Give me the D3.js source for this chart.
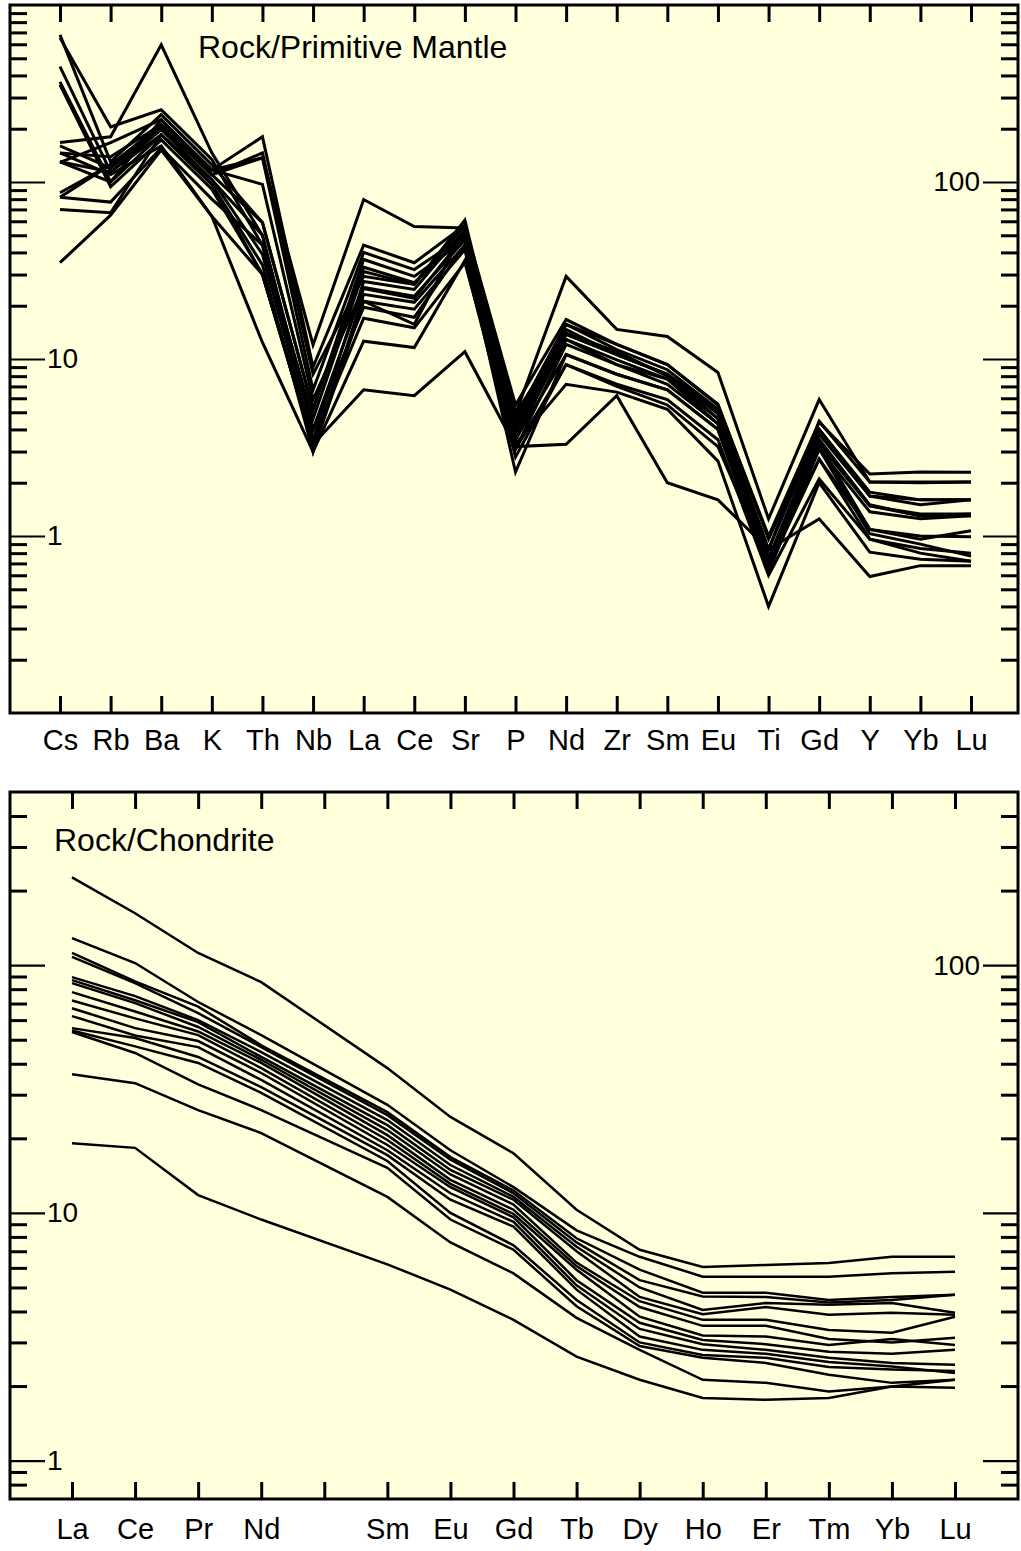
<!DOCTYPE html>
<html><head><meta charset="utf-8">
<script src="https://cdn.jsdelivr.net/npm/d3@7"></script>
<style>
body{margin:0;background:#fff}
svg text{font-family:"Liberation Sans",Arial,Helvetica,sans-serif;}
</style>
</head><body>
<svg id="chart" width="1021" height="1551"></svg>
<script>
// ---------- DATA ----------
// Spider diagram: normalised to primitive mantle
const pmElements = ["Cs","Rb","Ba","K","Th","Nb","La","Ce","Sr","P","Nd","Zr","Sm","Eu","Ti","Gd","Y","Yb","Lu"];
const pmSamples = [
  [35,65,152,64,30,3.3,6.7,6.2,11,3.2,3.3,6.2,2.0,1.6,0.84,1.25,0.59,0.68,0.68],
  [167,180,596,146,50,4.0,25,22,50,4.3,14,11,8,5,0.75,3.5,1.5,1.3,1.3],
  [130,100,225,117,180,9,44,35,57,5.5,16.7,12.1,9.3,5.5,1.0,4.4,2.24,2.3,2.29],
  [82,125,211,110,137,12,79.6,56,55,4.9,29.3,14.7,13.4,8.4,1.25,5.9,2.02,2.02,2.02],
  [678,130,240,125,59,5.2,36.5,29.3,47,4.6,15.7,11.3,8.7,5.2,0.84,4.0,1.77,1.6,1.6],
  [652,205,256,134,44,4.6,31.2,26.4,61,4.0,13.8,10.6,8.2,4.9,0.74,3.76,1.68,1.5,1.6],
  [448,114,198,103,39,3.5,27.4,24.7,54,3.5,12.9,9.9,7.7,4.6,0.69,3.3,1.48,1.33,1.33],
  [368,100,185,97,34,3.0,23.2,20.9,44,3.1,12.1,9.3,7.2,4.3,0.63,3.1,1.37,1.25,1.3],
  [354,94,173,91,30,3.3,21.2,19.1,41.5,2.3,10.6,8.2,6.7,4.0,0.66,2.72,1.09,1.0,0.99],
  [146,139,211,117,137,6.7,40,32,50,4.6,15.7,12.1,9.3,5.55,0.96,4.0,1.68,1.6,1.6],
  [129,167,225,110,146,8.2,29.3,26.4,57,4.3,14.7,10.6,8.2,4.6,0.74,3.5,1.48,1.3,1.33],
  [87,125,198,117,97,5.9,25.4,22.6,47,3.8,12.9,9.3,7.7,4.3,0.69,3.3,1.09,0.96,1.07],
  [82,77,156,80,44,4.0,19.6,17.2,44,3.5,10.6,8.2,6.7,4.0,0.63,3.1,1.03,0.9,0.77],
  [70,67,185,103,50,3.0,21.2,15.7,54,3.1,9.3,7.2,5.9,3.5,0.6,2.1,0.96,0.8,0.72],
  [130,114,185,97,30,3.5,17,15,35,3.3,7.2,6.5,5.2,2.65,0.40,2.0,0.81,0.74,0.72],
  [146,110,160,64,12.4,3.0,12.6,11.6,36,2.8,9.3,7.0,5.5,3.2,0.7,2.72,0.96,0.85,0.8],
  [160,120,205,110,59,5.2,33,27,50,4.9,13.8,10.6,8.2,5.2,0.84,4.45,2.02,2.0,2.02]
];
const pmTitle = "Rock/Primitive Mantle";
const pmDomain = [0.1, 1000];
const pmLeftLabels = [1, 10];
const pmRightLabels = [100];

// REE diagram: normalised to chondrite (Pm has no data)
const reeAxis = ["La","Ce","Pr","Nd","Pm","Sm","Eu","Gd","Tb","Dy","Ho","Er","Tm","Yb","Lu"];
const reeAxisLabels = ["La","Ce","Pr","Nd","","Sm","Eu","Gd","Tb","Dy","Ho","Er","Tm","Yb","Lu"];
const reeElements = ["La","Ce","Pr","Nd","Sm","Eu","Gd","Tb","Dy","Ho","Er","Tm","Yb","Lu"];
const reeSamples = [
  [226,162,112,85.4,38.4,24.4,17.4,10.3,7.1,6.05,6.16,6.27,6.65,6.65],
  [128.5,102,71,52.2,27.3,17.9,12.7,8.5,6.65,5.53,5.53,5.53,5.7,5.78],
  [112,86,68,47.5,25.5,16.8,12.3,7.9,5.9,4.76,4.76,4.45,4.58,4.67],
  [108,84.6,64,46.7,24.8,16.4,12.0,7.6,5.35,4.6,4.58,4.35,4.45,4.67],
  [89.5,75,60,44.6,23.7,15.6,11.6,7.3,5.0,4.06,4.33,4.26,4.33,3.95],
  [87,72.2,58.9,42.6,22.6,14.9,11.3,7.0,4.58,3.9,4.17,3.88,3.95,3.88],
  [84.6,70.3,56.3,41.5,21.6,14.3,10.8,6.3,4.4,3.7,3.7,3.37,3.28,3.81],
  [77.8,65,54,40.3,20.6,13.6,10.3,6.1,4.17,3.5,3.5,3.1,3.0,3.13],
  [72,61,52.2,38.4,19.7,13.1,9.9,5.9,3.81,3.2,3.17,2.93,3.1,2.93],
  [67,55.7,49.4,36.7,18.8,12.7,9.6,5.35,3.6,3.07,2.95,2.75,2.7,2.8],
  [62.3,52,46.7,34.4,17.9,12.0,9.2,5.1,3.4,2.95,2.8,2.6,2.48,2.44],
  [55.7,50.8,42.6,32.2,17.1,11.3,8.8,4.9,3.17,2.8,2.7,2.5,2.4,2.26],
  [54.5,47,40.3,30.5,16.2,10.0,7.4,4.45,3.0,2.67,2.6,2.39,2.33,2.3],
  [53.7,44.2,33,26,15.2,9.4,7.1,4.2,2.9,2.6,2.48,2.22,2.06,2.12],
  [36.3,33.4,26,21,11.6,7.6,5.7,3.77,2.8,2.12,2.06,1.9,1.99,1.97],
  [19.1,18.3,11.8,9.4,6.2,4.9,3.7,2.63,2.12,1.79,1.76,1.79,1.99,2.12]
];
const reeTitle = "Rock/Chondrite";
const reeDomain = [0.7, 500];
const reeLeftLabels = [1, 10];
const reeRightLabels = [100];

// ---------- DRAWING ----------
const svg = d3.select("#chart");
const BG = "#ffffdc";
const TICK_FONT = 28;
const CAT_FONT = 29;
const TITLE_FONT = 32;

function logTicks(dom) {
  const major = [], minor = [];
  for (let e = -3; e <= 4; e++) {
    for (let m = 1; m <= 9; m++) {
      const v = +(m * Math.pow(10, e)).toPrecision(6);
      if (v <= dom[0] * 1.0001 || v >= dom[1] * 0.9999) continue;
      (m === 1 ? major : minor).push(v);
    }
  }
  return {major, minor};
}

function panel(cfg) {
  const g = svg.append("g");
  g.append("rect")
    .attr("x", cfg.x0).attr("y", cfg.y0)
    .attr("width", cfg.x1 - cfg.x0).attr("height", cfg.y1 - cfg.y0)
    .attr("fill", BG);

  const x = d3.scalePoint().domain(cfg.axisCats).range(cfg.xr);
  const y = d3.scaleLog().domain(cfg.domain).range([cfg.y1, cfg.y0]);

  // sample lines
  const line = d3.line().x(d => x(d[0])).y(d => y(d[1]));
  g.append("g").selectAll("path")
    .data(cfg.samples)
    .join("path")
    .attr("d", s => line(cfg.elements.map((e, i) => [e, s[i]])))
    .attr("fill", "none")
    .attr("stroke", "#000")
    .attr("stroke-width", cfg.lw)
    .attr("stroke-linejoin", "miter");

  const style = fs => sel => {
    sel.select(".domain").remove();
    sel.selectAll("line").attr("stroke", "#000");
    sel.selectAll("text").attr("font-size", fs).attr("fill", "#000")
      .attr("font-family", '"Liberation Sans",Arial,Helvetica,sans-serif');
  };

  // x ticks on top border (pointing down)
  g.append("g").attr("transform", `translate(0,${cfg.y0})`)
    .call(d3.axisBottom(x).tickSize(17).tickFormat(""))
    .call(style(CAT_FONT)).selectAll("line").attr("stroke-width", 3);

  // x ticks on bottom border (pointing up) with labels below
  const lab = new Map(cfg.axisCats.map((c, i) => [c, cfg.axisLabels[i]]));
  g.append("g").attr("transform", `translate(0,${cfg.y1})`)
    .call(d3.axisBottom(x).tickSizeInner(-17).tickSizeOuter(0)
      .tickPadding(cfg.labelPad).tickFormat(c => lab.get(c)))
    .call(style(CAT_FONT)).selectAll("line").attr("stroke-width", 3);

  const t = logTicks(cfg.domain);
  // left minor / major
  g.append("g").attr("transform", `translate(${cfg.x0},0)`)
    .call(d3.axisRight(y).tickValues(t.minor).tickSize(17).tickFormat(""))
    .call(style(TICK_FONT)).selectAll("line").attr("stroke-width", 3);
  g.append("g").attr("transform", `translate(${cfg.x0},0)`)
    .call(d3.axisRight(y).tickValues(t.major).tickSize(35).tickPadding(2)
      .tickFormat(v => cfg.leftLabels.includes(v) ? d3.format("~g")(v) : ""))
    .call(style(TICK_FONT)).selectAll("line").attr("stroke-width", 2.2);
  // right minor / major
  g.append("g").attr("transform", `translate(${cfg.x1},0)`)
    .call(d3.axisLeft(y).tickValues(t.minor).tickSize(17).tickFormat(""))
    .call(style(TICK_FONT)).selectAll("line").attr("stroke-width", 3);
  g.append("g").attr("transform", `translate(${cfg.x1},0)`)
    .call(d3.axisLeft(y).tickValues(t.major).tickSize(35).tickPadding(3)
      .tickFormat(v => cfg.rightLabels.includes(v) ? d3.format("~g")(v) : ""))
    .call(style(TICK_FONT)).selectAll("line").attr("stroke-width", 2.2);

  // frame
  g.append("rect")
    .attr("x", cfg.x0).attr("y", cfg.y0)
    .attr("width", cfg.x1 - cfg.x0).attr("height", cfg.y1 - cfg.y0)
    .attr("fill", "none").attr("stroke", "#000").attr("stroke-width", 3);

  // title
  g.append("text")
    .attr("x", cfg.titleX).attr("y", cfg.titleY)
    .attr("font-size", TITLE_FONT).attr("fill", "#000")
    .text(cfg.title);
}

panel({
  x0: 10, x1: 1018, y0: 5, y1: 713,
  xr: [60, 971],
  axisCats: pmElements, axisLabels: pmElements,
  elements: pmElements, samples: pmSamples,
  domain: pmDomain, leftLabels: pmLeftLabels, rightLabels: pmRightLabels,
  lw: 3, labelPad: 16,
  title: pmTitle, titleX: 198, titleY: 58
});

panel({
  x0: 10, x1: 1018, y0: 792, y1: 1499,
  xr: [72, 955],
  axisCats: reeAxis, axisLabels: reeAxisLabels,
  elements: reeElements, samples: reeSamples,
  domain: reeDomain, leftLabels: reeLeftLabels, rightLabels: reeRightLabels,
  lw: 2.5, labelPad: 19,
  title: reeTitle, titleX: 54, titleY: 851
});
</script>
</body></html>
